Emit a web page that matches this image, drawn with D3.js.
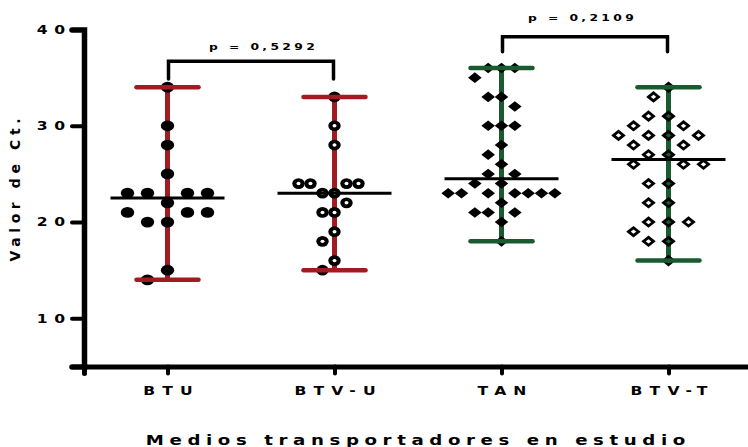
<!DOCTYPE html>
<html>
<head>
<meta charset="utf-8">
<script src="https://cdn.jsdelivr.net/npm/d3@7"></script>
<style>
  body { margin: 0; background: #fff; }
  text { font-family: "DejaVu Sans", "Liberation Sans", Arial, sans-serif; font-weight: bold; fill: #000; }
</style>
</head>
<body>
<svg id="chart" width="748" height="447"></svg>
<script>
// Ct values per transport medium
const categories = ["BTU", "BTV-U", "TAN", "BTV-T"];
const btuValues = [22, 23, 23, 23, 23, 20, 20, 21, 21, 21, 25, 28, 30, 34, 15, 14];
const btvUValues = [23, 23, 22, 24, 24, 24, 24, 21, 21, 19, 18, 16, 15, 28, 30, 33];
const tanValues = [36, 36, 36, 35, 33, 33, 32, 30, 30, 30, 28, 27, 26, 25, 25, 24, 24,
  23, 23, 23, 23, 23, 23, 23, 22, 21, 21, 21, 20, 18];
const btvTValues = [34, 33, 31, 31, 30, 30, 29, 29, 29, 29, 28, 28, 27, 27, 26, 26, 26,
  24, 24, 22, 22, 20, 20, 20, 19, 18, 18, 16];
const yTicks = [10, 20, 30, 40];
const yDomain = [5, 40];

// significance brackets (levels in Ct units)
const pairs = [["BTU", "BTV-U"], ["TAN", "BTV-T"]];
const pLabels = ["p = 0,5292", "p = 0,2109"];
const bracketLevels = [36.7, 39.25];
const bracketLegs = [34.85, 37.7];
const pLabelLevels = [37.87, 40.9];

const red = "#a01c22";
const green = "#195b2e";
const stretch = 1.3; // the original graphic is widened horizontally

const svg = d3.select("#chart");

const x = d3.scalePoint().domain(categories).range([84, 752]).padding(0.5);
const y = d3.scaleLinear().domain(yDomain).range([366.5, 29.5]);

const groups = [
  { cat: "BTU", values: btuValues, color: red, marker: "dot", step: 10, sepX: 20 },
  { cat: "BTV-U", values: btvUValues, color: red, marker: "ring", step: 6, sepX: 12 },
  { cat: "TAN", values: tanValues, color: green, marker: "diamond", step: 20 / 3, sepX: 13.3 },
  { cat: "BTV-T", values: btvTValues, color: green, marker: "openDiamond", step: 5, sepX: 18 }
];

// simple dodge: each point takes the free slot nearest the centre
function dodge(values, opts) {
  const placed = [];
  const sepY = 14;
  return values.map(v => {
    const py = y(v);
    for (let i = 0; ; i++) {
      const k = i === 0 ? 0 : (i % 2 ? -Math.ceil(i / 2) : i / 2);
      const px = k * opts.step;
      const hit = placed.some(p =>
        ((p.x - px) / opts.sepX) ** 2 + ((p.y - py) / sepY) ** 2 < 0.999);
      if (!hit) {
        const pt = { x: px, y: py, v };
        placed.push(pt);
        return pt;
      }
    }
  });
}

// widened, letter-spaced label; cx is the visual centre on screen
function wideText(parent, cx, baseline, str, size, ls) {
  return parent.append("text")
    .attr("transform", `translate(${cx},${baseline}) scale(${stretch},1)`)
    .attr("x", ls / 2)
    .attr("text-anchor", "middle")
    .attr("font-size", size)
    .attr("letter-spacing", ls)
    .text(str);
}

// axes
const tickLs = 5;
const yAxis = svg.append("g")
  .attr("transform", "translate(84,0)")
  .call(d3.axisLeft(y).tickValues(yTicks).tickSizeOuter(0).tickSize(12).tickFormat(d3.format("d")));
yAxis.select(".domain")
  .attr("stroke", "#000").attr("stroke-width", 5.5).attr("stroke-linecap", "round");
yAxis.selectAll(".tick line")
  .attr("stroke-width", 4).attr("stroke-linecap", "round");
yAxis.selectAll(".tick text")
  .attr("transform", `scale(${stretch},1)`)
  .attr("x", -19 / stretch + tickLs)
  .attr("font-size", 12)
  .attr("letter-spacing", tickLs)
  .attr("font-family", null);

const catLs = 5.5;
const xAxis = svg.append("g")
  .attr("transform", "translate(0,366.5)")
  .call(d3.axisBottom(x).tickSizeOuter(0).tickSize(7));
xAxis.select(".domain")
  .attr("stroke", "#000").attr("stroke-width", 5).attr("stroke-linecap", "round");
xAxis.selectAll(".tick line")
  .attr("stroke-width", 4).attr("stroke-linecap", "round");
xAxis.selectAll(".tick text")
  .attr("transform", `scale(${stretch},1)`)
  .attr("y", 28.5).attr("dy", null)
  .attr("x", catLs / 2)
  .attr("font-size", 12)
  .attr("letter-spacing", catLs)
  .attr("font-family", null);
svg.selectAll(".tick text").attr("fill", "#000");

// axis titles
wideText(svg, 415.5, 445, "Medios transportadores en estudio", 14, 4.3);

svg.append("text")
  .attr("transform", "rotate(-90)")
  .attr("x", -190 + 2.3)
  .attr("y", 20)
  .attr("text-anchor", "middle")
  .attr("font-size", 14)
  .attr("letter-spacing", 4.6)
  .text("Valor de Ct.");

// markers
function drawMarker(sel, type) {
  if (type === "dot") {
    sel.append("ellipse").attr("rx", 6.7).attr("ry", 5.4).attr("fill", "#000");
  } else if (type === "ring") {
    sel.append("ellipse").attr("rx", 6.2).attr("ry", 5.4).attr("fill", "#000");
    sel.append("ellipse").attr("rx", 2).attr("ry", 1.7).attr("fill", "#fff");
  } else if (type === "diamond") {
    sel.append("path").attr("d", "M-6.8,0L0,-5.3L6.8,0L0,5.3Z").attr("fill", "#000");
  } else {
    sel.append("path").attr("d", "M-5,0L0,-4L5,0L0,4Z")
      .attr("fill", "none").attr("stroke", "#000").attr("stroke-width", 2.8);
  }
}

const capHalf = 31;
const medianHalf = 57;

groups.forEach(gr => {
  const cx = x(gr.cat);
  const lo = d3.min(gr.values);
  const hi = d3.max(gr.values);
  const med = d3.median(gr.values);
  const g = svg.append("g").attr("class", "group");

  // range bar
  g.append("line")
    .attr("x1", cx).attr("x2", cx)
    .attr("y1", y(lo)).attr("y2", y(hi))
    .attr("stroke", gr.color).attr("stroke-width", 5);

  // points
  const pts = dodge(gr.values, gr);
  g.selectAll("g.pt")
    .data(pts)
    .join("g")
    .attr("class", "pt")
    .attr("transform", d => `translate(${cx + d.x},${d.y})`)
    .each(function() { drawMarker(d3.select(this), gr.marker); });

  // caps
  g.selectAll("line.cap")
    .data([lo, hi])
    .join("line")
    .attr("class", "cap")
    .attr("x1", cx - capHalf).attr("x2", cx + capHalf)
    .attr("y1", d => y(d)).attr("y2", d => y(d))
    .attr("stroke", gr.color).attr("stroke-width", 4.5).attr("stroke-linecap", "round");

  // median
  g.append("line")
    .attr("x1", cx - medianHalf).attr("x2", cx + medianHalf)
    .attr("y1", y(med)).attr("y2", y(med))
    .attr("stroke", "#000").attr("stroke-width", 3);
});

// significance brackets
const textShift = [11, -4];
pairs.forEach((pair, i) => {
  const x1 = x(pair[0]) + 1;
  const x2 = x(pair[1]) - 1;
  const top = y(bracketLevels[i]);
  const leg = y(bracketLegs[i]);
  svg.append("path")
    .attr("d", `M${x1},${leg}V${top}H${x2}V${leg}`)
    .attr("fill", "none").attr("stroke", "#000").attr("stroke-width", 3.5)
    .attr("stroke-linecap", "round");
  wideText(svg, (x1 + x2) / 2 + textShift[i], y(pLabelLevels[i]), pLabels[i], 9.5, 2.6);
});
</script>
</body>
</html>
